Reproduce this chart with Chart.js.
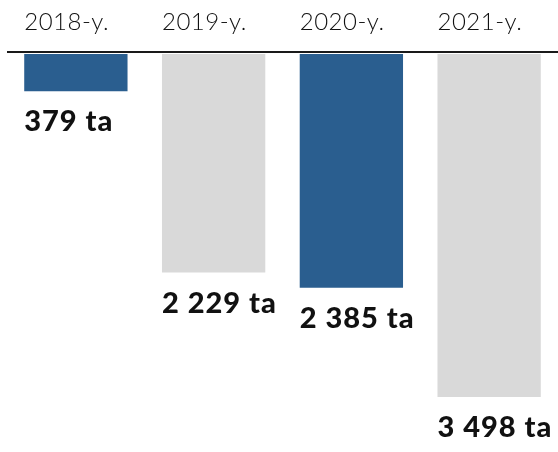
<!DOCTYPE html>
<html>
<head>
<meta charset="utf-8">
<script src="https://cdn.jsdelivr.net/npm/chart.js@4"></script>
<style>
  html, body { margin: 0; padding: 0; background: #fff; }
  #wrap { width: 558px; height: 452px; }
</style>
</head>
<body>
<div id="wrap"><canvas id="chart"></canvas></div>
<script>
const years = ['2018-y.', '2019-y.', '2020-y.', '2021-y.'];
const values = [379, 2229, 2385, 3498];
const valueLabels = ['379 ta', '2 229 ta', '2 385 ta', '3 498 ta'];
const barColors = ['#2a5e8f', '#d9d9d9', '#2a5e8f', '#d9d9d9'];

// top rule plus labels above and below each bar, placed from the bar elements
const barLabels = {
  id: 'barLabels',
  afterDatasetsDraw(chart) {
    const ctx = chart.ctx;
    const area = chart.chartArea;
    const bars = chart.getDatasetMeta(0).data;
    ctx.save();
    ctx.strokeStyle = '#1a1a1a';
    ctx.lineWidth = 2;
    ctx.beginPath();
    ctx.moveTo(area.left, area.top - 2);
    ctx.lineTo(chart.width, area.top - 2);
    ctx.stroke();

    ctx.textAlign = 'left';
    ctx.textBaseline = 'alphabetic';
    ctx.fillStyle = '#111';
    bars.forEach((bar, i) => {
      const left = bar.x - bar.width / 2;
      ctx.font = '300 24px Lato';
      ctx.letterSpacing = '0.5px';
      ctx.fillText(years[i], left, 30);
      ctx.font = '900 29px Lato';
      ctx.letterSpacing = '1px';
      ctx.fillText(valueLabels[i], left, bar.y + 40);
    });
    ctx.restore();
  }
};

new Chart(document.getElementById('chart'), {
  type: 'bar',
  data: {
    labels: years,
    datasets: [{
      data: values,
      backgroundColor: barColors,
      barPercentage: 0.75,
      categoryPercentage: 1
    }]
  },
  options: {
    responsive: true,
    maintainAspectRatio: false,
    animation: false,
    layout: { padding: { top: 54, left: 7, right: 0, bottom: 0 } },
    plugins: { legend: { display: false }, tooltip: { enabled: false } },
    scales: {
      x: { display: false },
      y: {
        display: false,
        reverse: true,
        min: 0,
        max: 4060
      }
    }
  },
  plugins: [barLabels]
});
</script>
</body>
</html>
